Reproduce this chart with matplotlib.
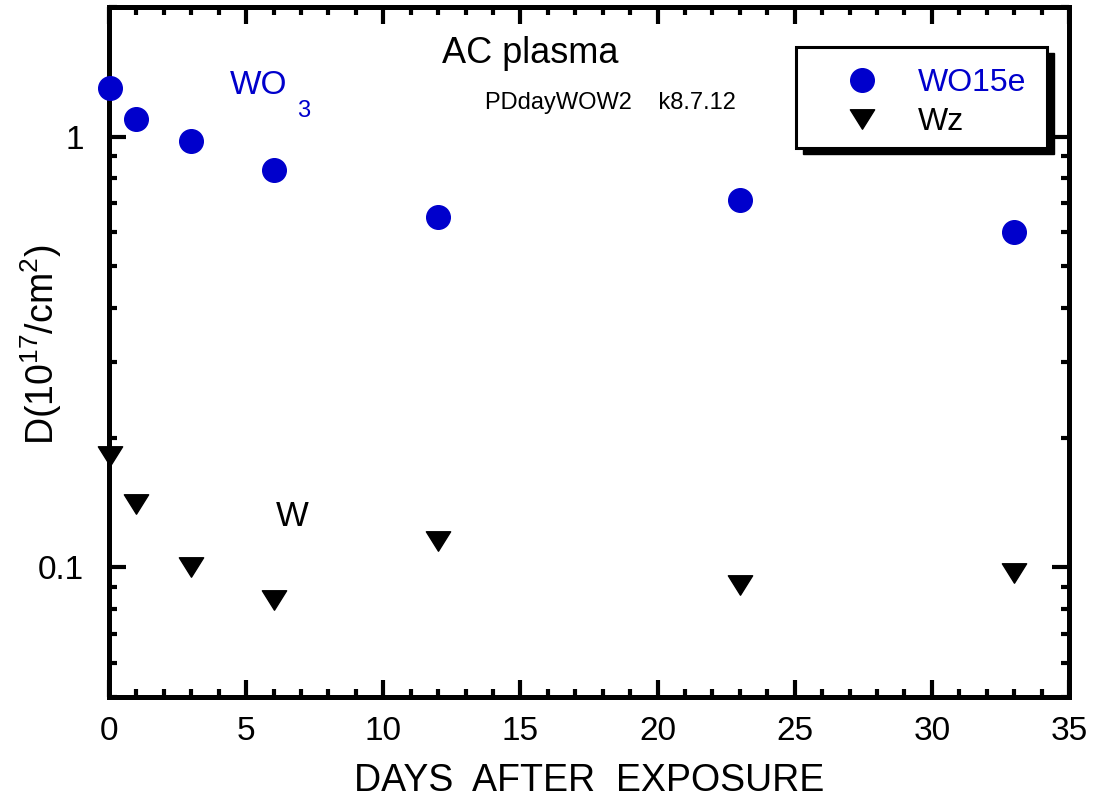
import matplotlib
matplotlib.use("Agg")
import matplotlib.pyplot as plt
from matplotlib.patches import Rectangle
from matplotlib.path import Path
import numpy as np

plt.rcParams['font.family'] = ['Liberation Sans', 'DejaVu Sans']
plt.rcParams['mathtext.fontset'] = 'custom'
plt.rcParams['mathtext.rm'] = 'Liberation Sans'
plt.rcParams['mathtext.it'] = 'Liberation Sans'

# data
days = [0.05, 1.0, 3.0, 6.0, 12.0, 23.0, 33.0]
wo15e = [1.30, 1.10, 0.979, 0.838, 0.650, 0.711, 0.602]
wz = [0.181, 0.140, 0.100, 0.0838, 0.115, 0.0910, 0.0968]

blue = '#0000cc'

# flat down-pointing triangle
tri = Path([(-1, 0.8), (1, 0.8), (0, -0.8), (-1, 0.8)],
           [Path.MOVETO, Path.LINETO, Path.LINETO, Path.CLOSEPOLY])

fig = plt.figure(figsize=(10.94, 8), dpi=100)
ax = fig.add_axes([0.0996, 0.12875, 0.8775, 0.8625])

ax.plot(days, wo15e, 'o', color=blue, markersize=17, label='WO15e',
        clip_on=False, zorder=3)
ax.plot(days, wz, linestyle='none', marker=tri, color='black',
        markersize=17.5, label='Wz', clip_on=False, zorder=3)

ax.set_yscale('log')
ax.set_xlim(0, 35)
ax.set_ylim(0.05, 2)

ax.set_xticks(np.arange(0, 36, 5))
ax.set_xticks(np.arange(0, 36, 1), minor=True)
ax.set_yticks([0.1, 1])
ax.set_yticklabels(['0.1', '1'])
ax.yaxis.set_minor_formatter(matplotlib.ticker.NullFormatter())

ax.tick_params(which='both', direction='in', top=True, right=True,
               width=3, labelsize=24)
ax.tick_params(which='major', length=12)
ax.tick_params(which='minor', length=6)
ax.tick_params(axis='x', pad=14)
ax.tick_params(axis='y', pad=18)
for s in ax.spines.values():
    s.set_linewidth(3.6)

ax.set_xlabel('DAYS  AFTER  EXPOSURE', fontsize=27, labelpad=11)
ax.set_ylabel(r'D(10$^{\mathrm{17}}$/cm$^{\mathrm{2}}$)', fontsize=27)
ax.yaxis.set_label_coords(-0.047, 0.51)

# annotations
ax.text(0.4385, 0.933, 'AC plasma', transform=ax.transAxes,
        fontsize=26, ha='center', va='center')
ax.text(0.5219, 0.861, 'PDdayWOW2    k8.7.12', transform=ax.transAxes,
        fontsize=17, ha='center', va='center')
ax.text(0.126, 0.886, 'WO', transform=ax.transAxes, fontsize=24,
        color=blue, ha='left', va='center')
ax.text(0.1958, 0.849, '3', transform=ax.transAxes, fontsize=17,
        color=blue, ha='left', va='center')
ax.text(0.1906, 0.2623, 'W', transform=ax.transAxes, fontsize=25,
        ha='center', va='center')

# legend box with a hard shadow
x0, x1, y0, y1 = 0.7156, 0.977, 0.7957, 0.942
ax.add_patch(Rectangle((x0 + 0.007, y0 - 0.009), x1 - x0, y1 - y0,
                       transform=ax.transAxes, facecolor='black',
                       edgecolor='black', zorder=4))
ax.add_patch(Rectangle((x0, y0), x1 - x0, y1 - y0, transform=ax.transAxes,
                       facecolor='white', edgecolor='black', linewidth=2.2,
                       zorder=5))
leg = ax.legend(loc='upper left', bbox_to_anchor=(0.751, 0.912),
                frameon=False, fontsize=23, borderpad=0, borderaxespad=0,
                handlelength=2, handletextpad=0.75, labelspacing=0.3,
                numpoints=1)
leg.set_zorder(6)
leg.get_texts()[0].set_color(blue)

fig.savefig('out.png', dpi=100)
